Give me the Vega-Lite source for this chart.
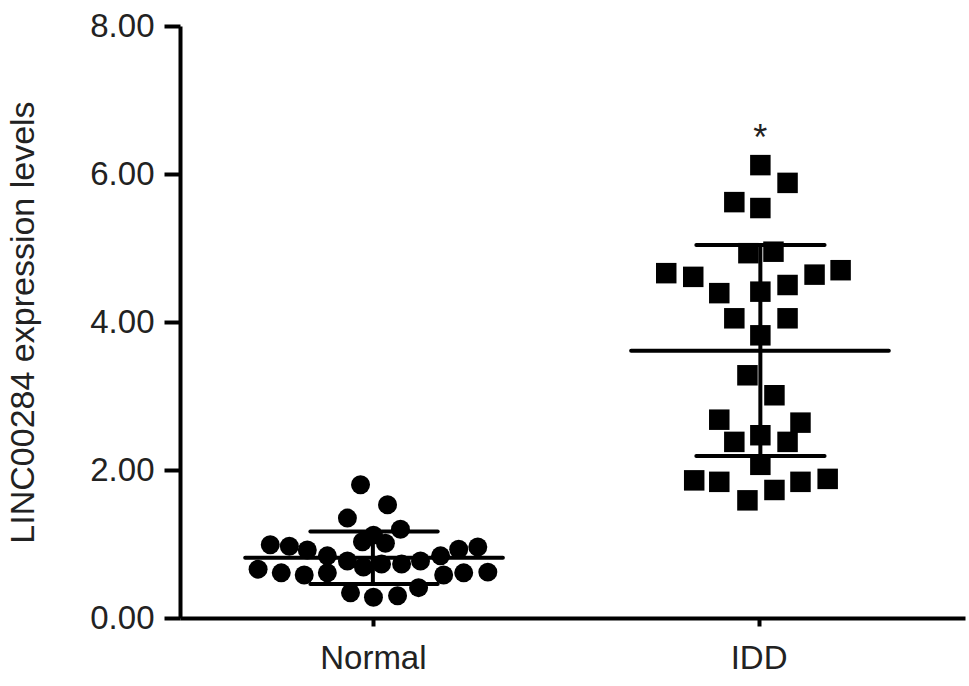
{
  "$schema": "https://vega.github.io/schema/vega-lite/v6.json",
  "width": 785,
  "height": 592,
  "autosize": {"type": "none"},
  "padding": {"left": 180, "top": 26, "right": 4, "bottom": 68},
  "background": "white",
  "layer": [
    {
      "data": {
        "values": [
          {"group": "Normal", "x": 0.936, "value": 1.80},
          {"group": "Normal", "x": 1.076, "value": 1.53},
          {"group": "Normal", "x": 0.868, "value": 1.35},
          {"group": "Normal", "x": 1.143, "value": 1.20},
          {"group": "Normal", "x": 1.003, "value": 1.12},
          {"group": "Normal", "x": 0.946, "value": 1.03},
          {"group": "Normal", "x": 1.065, "value": 1.01},
          {"group": "Normal", "x": 0.468, "value": 0.99},
          {"group": "Normal", "x": 0.567, "value": 0.97},
          {"group": "Normal", "x": 0.660, "value": 0.92},
          {"group": "Normal", "x": 0.764, "value": 0.84},
          {"group": "Normal", "x": 0.868, "value": 0.77},
          {"group": "Normal", "x": 0.951, "value": 0.69},
          {"group": "Normal", "x": 1.045, "value": 0.73},
          {"group": "Normal", "x": 1.149, "value": 0.73},
          {"group": "Normal", "x": 1.247, "value": 0.77},
          {"group": "Normal", "x": 1.351, "value": 0.84},
          {"group": "Normal", "x": 1.445, "value": 0.93},
          {"group": "Normal", "x": 1.544, "value": 0.96},
          {"group": "Normal", "x": 0.405, "value": 0.66},
          {"group": "Normal", "x": 0.525, "value": 0.61},
          {"group": "Normal", "x": 0.644, "value": 0.58},
          {"group": "Normal", "x": 0.764, "value": 0.61},
          {"group": "Normal", "x": 1.367, "value": 0.58},
          {"group": "Normal", "x": 1.471, "value": 0.61},
          {"group": "Normal", "x": 1.596, "value": 0.62},
          {"group": "Normal", "x": 0.884, "value": 0.34},
          {"group": "Normal", "x": 1.003, "value": 0.28},
          {"group": "Normal", "x": 1.128, "value": 0.30},
          {"group": "Normal", "x": 1.237, "value": 0.41},
          {"group": "IDD", "x": 3.009, "value": 6.12},
          {"group": "IDD", "x": 3.150, "value": 5.88},
          {"group": "IDD", "x": 2.874, "value": 5.62},
          {"group": "IDD", "x": 3.009, "value": 5.54},
          {"group": "IDD", "x": 2.947, "value": 4.93},
          {"group": "IDD", "x": 3.077, "value": 4.95},
          {"group": "IDD", "x": 2.521, "value": 4.66},
          {"group": "IDD", "x": 2.661, "value": 4.61},
          {"group": "IDD", "x": 2.796, "value": 4.39},
          {"group": "IDD", "x": 3.009, "value": 4.41},
          {"group": "IDD", "x": 3.150, "value": 4.50},
          {"group": "IDD", "x": 3.290, "value": 4.64},
          {"group": "IDD", "x": 3.425, "value": 4.70},
          {"group": "IDD", "x": 2.874, "value": 4.05},
          {"group": "IDD", "x": 3.150, "value": 4.05},
          {"group": "IDD", "x": 3.009, "value": 3.82},
          {"group": "IDD", "x": 2.942, "value": 3.28},
          {"group": "IDD", "x": 3.082, "value": 3.01},
          {"group": "IDD", "x": 2.796, "value": 2.68},
          {"group": "IDD", "x": 3.217, "value": 2.64},
          {"group": "IDD", "x": 2.874, "value": 2.38},
          {"group": "IDD", "x": 3.009, "value": 2.47},
          {"group": "IDD", "x": 3.150, "value": 2.38},
          {"group": "IDD", "x": 3.009, "value": 2.07},
          {"group": "IDD", "x": 2.666, "value": 1.86},
          {"group": "IDD", "x": 2.796, "value": 1.84},
          {"group": "IDD", "x": 2.942, "value": 1.59},
          {"group": "IDD", "x": 3.082, "value": 1.73},
          {"group": "IDD", "x": 3.217, "value": 1.84},
          {"group": "IDD", "x": 3.358, "value": 1.88}
        ]
      },
      "mark": {"type": "point", "filled": true, "opacity": 1, "color": "black"},
      "encoding": {
        "x": {
          "field": "x",
          "type": "quantitative",
          "scale": {"domain": [0, 4.07], "nice": false, "zero": false},
          "axis": {
            "values": [1, 3],
            "labelExpr": "datum.value == 1 ? 'Normal' : 'IDD'",
            "title": null,
            "grid": false,
            "tickSize": 8,
            "labelPadding": 16
          }
        },
        "y": {
          "field": "value",
          "type": "quantitative",
          "scale": {"domain": [0, 8], "nice": false},
          "axis": {
            "values": [0, 2, 4, 6, 8],
            "format": ".2f",
            "title": "LINC00284 expression levels",
            "grid": false,
            "tickSize": 16,
            "labelPadding": 10,
            "titleX": -157,
            "titleY": 296,
            "titleAlign": "center",
            "titleBaseline": "middle",
            "titleAngle": -90
          }
        },
        "shape": {
          "field": "group",
          "type": "nominal",
          "scale": {"domain": ["Normal", "IDD"], "range": ["circle", "square"]},
          "legend": null
        },
        "size": {
          "field": "group",
          "type": "nominal",
          "scale": {"domain": ["Normal", "IDD"], "range": [360, 420]},
          "legend": null
        }
      }
    },
    {
      "data": {
        "values": [
          {"group": "Normal", "kind": "mean", "x1": 0.338, "x2": 1.674, "y": 0.815},
          {"group": "Normal", "kind": "sd", "x1": 0.676, "x2": 1.336, "y": 1.17},
          {"group": "Normal", "kind": "sd", "x1": 0.676, "x2": 1.336, "y": 0.46},
          {"group": "IDD", "kind": "mean", "x1": 2.339, "x2": 3.675, "y": 3.61},
          {"group": "IDD", "kind": "sd", "x1": 2.677, "x2": 3.342, "y": 5.04},
          {"group": "IDD", "kind": "sd", "x1": 2.677, "x2": 3.342, "y": 2.19}
        ]
      },
      "mark": {"type": "rule", "color": "black", "strokeWidth": 4, "strokeCap": "round"},
      "encoding": {
        "x": {"field": "x1", "type": "quantitative"},
        "x2": {"field": "x2"},
        "y": {"field": "y", "type": "quantitative"}
      }
    },
    {
      "data": {
        "values": [
          {"group": "Normal", "x": 1.0, "lo": 0.46, "hi": 1.17},
          {"group": "IDD", "x": 3.009, "lo": 2.19, "hi": 5.04}
        ]
      },
      "mark": {"type": "rule", "color": "black", "strokeWidth": 4},
      "encoding": {
        "x": {"field": "x", "type": "quantitative"},
        "y": {"field": "lo", "type": "quantitative"},
        "y2": {"field": "hi"}
      }
    },
    {
      "data": {"values": [{"x": 3.009, "y": 6.58, "label": "*"}]},
      "mark": {"type": "text", "fontSize": 36, "baseline": "middle", "align": "center", "dy": 8},
      "encoding": {
        "x": {"field": "x", "type": "quantitative"},
        "y": {"field": "y", "type": "quantitative"},
        "text": {"field": "label"}
      }
    }
  ],
  "config": {
    "view": {"stroke": null},
    "font": "Liberation Sans",
    "axis": {
      "domainColor": "black",
      "domainWidth": 4,
      "tickColor": "black",
      "tickWidth": 4,
      "labelColor": "#222222",
      "labelFontSize": 33,
      "labelFont": "Liberation Sans",
      "titleFont": "Liberation Sans",
      "titleFontSize": 34,
      "titleFontWeight": "normal",
      "titleColor": "#222222"
    },
    "text": {"font": "Liberation Sans", "color": "#222222"}
  }
}
